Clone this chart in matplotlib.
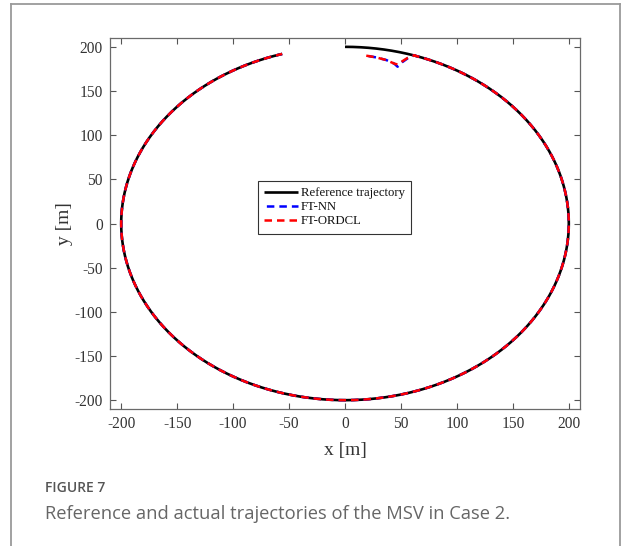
import numpy as np
import matplotlib
matplotlib.use("Agg")
import matplotlib.pyplot as plt
from matplotlib.lines import Line2D

# ---- data ----
ref_radius = 200.0            # reference circle radius [m]
ref_start_deg = 90.0          # start angle (top of circle)
ref_end_deg = 106.3 - 360.0   # end angle, traversed clockwise

# initial transient of the actual trajectories
nn_x = [19, 28, 37, 44, 47, 51, 56, 62]
nn_y = [190, 188, 185, 181, 177.5, 182.5, 187, 190.5]
ordcl_x = [19, 28, 37, 44, 47, 51, 56, 62]
ordcl_y = [190, 188, 185, 181, 180, 183.5, 187.5, 190.5]

xticks = [-200, -150, -100, -50, 0, 50, 100, 150, 200]
yticks = [-200, -150, -100, -50, 0, 50, 100, 150, 200]
legend_labels = ["Reference trajectory", "FT-NN", "FT-ORDCL"]

# ---- build curves ----
theta = np.radians(np.linspace(ref_start_deg, ref_end_deg, 1200))
ref_x = ref_radius * np.cos(theta)
ref_y = ref_radius * np.sin(theta)

join_deg = np.degrees(np.arctan2(190.5, 62))
theta2 = np.radians(np.linspace(join_deg, ref_end_deg, 1200))
circ_x = ref_radius * np.cos(theta2)
circ_y = ref_radius * np.sin(theta2)
nnx = np.concatenate([nn_x, circ_x]); nny = np.concatenate([nn_y, circ_y])
orx = np.concatenate([ordcl_x, circ_x]); ory = np.concatenate([ordcl_y, circ_y])

DPI = 100
fig = plt.figure(figsize=(6.24, 5.46), dpi=DPI)
fig.patch.set_facecolor("white")

# card border
border_col = "#9a9a9a"
fig.add_artist(Line2D([11/624, 11/624], [0, 1-3.5/546], color=border_col, lw=1.3, transform=fig.transFigure))
fig.add_artist(Line2D([11/624, 620/624], [1-3.5/546, 1-3.5/546], color=border_col, lw=1.3, transform=fig.transFigure))
fig.add_artist(Line2D([620/624, 620/624], [0, 1-3.5/546], color=border_col, lw=1.3, transform=fig.transFigure))

ax = fig.add_axes([110/624, 1-409/546, 470/624, 371/546])
serif = ["Liberation Serif", "DejaVu Serif"]
ax.set_xlim(-210, 210)
ax.set_ylim(-210, 210)

# align dash phase of the two dashed curves on the common part
lw_d = 1.8
dash = (3.0, 2.0)
def trans_len(xs, ys):
    p = ax.transData.transform(np.column_stack([xs, ys]))
    return np.sum(np.hypot(np.diff(p[:, 0]), np.diff(p[:, 1]))) * 72.0 / DPI
L_nn = trans_len(nn_x, nn_y)
L_or = trans_len(ordcl_x, ordcl_y)
period = (dash[0] + dash[1]) * lw_d
off = ((L_or - L_nn) % period) / lw_d

ax.plot(ref_x, ref_y, color="black", lw=1.9, solid_capstyle="butt", label=legend_labels[0])
ax.plot(nnx, nny, color="#0000ff", lw=lw_d, ls=(off, dash), label=legend_labels[1])
ax.plot(orx, ory, color="#ff0000", lw=lw_d, ls=(0, dash), label=legend_labels[2])

ax.set_xticks(xticks)
ax.set_yticks(yticks)
ax.set_xticklabels([str(t) for t in xticks], fontfamily=serif, fontsize=11.2, color="#333333")
ax.set_yticklabels([str(t) for t in yticks], fontfamily=serif, fontsize=11.2, color="#333333")
ax.tick_params(direction="in", length=4.5, width=0.8, color="#555555", top=True, right=True, pad=5)
for s in ax.spines.values():
    s.set_color("#6a6a6a")
    s.set_linewidth(0.9)

ax.set_xlabel("x [m]", fontfamily=serif, fontsize=14, color="#333333", labelpad=7)
ax.set_ylabel("y [m]", fontfamily=serif, fontsize=14, color="#333333", labelpad=1)

leg = ax.legend(loc="upper left", bbox_to_anchor=((258-110)/470, 1-(181-38)/371),
                prop={"family": serif, "size": 9.2}, frameon=True, fancybox=False,
                handlelength=2.6, handletextpad=0.25, borderpad=0.5, labelspacing=0.15,
                borderaxespad=0)
leg.get_frame().set_edgecolor("black")
leg.get_frame().set_linewidth(0.8)
for t in leg.get_texts():
    t.set_color("#111111")

fig.text(45/624, 1-488/546, "FIGURE 7", fontfamily="Open Sans", fontweight="semibold",
         fontsize=10, color="#555555", va="center", ha="left")
fig.text(45/624, 1-514/546, "Reference and actual trajectories of the MSV in Case 2.",
         fontfamily="Open Sans", fontsize=13.2, color="#666666", va="center", ha="left")

fig.savefig("out.png", dpi=DPI)
